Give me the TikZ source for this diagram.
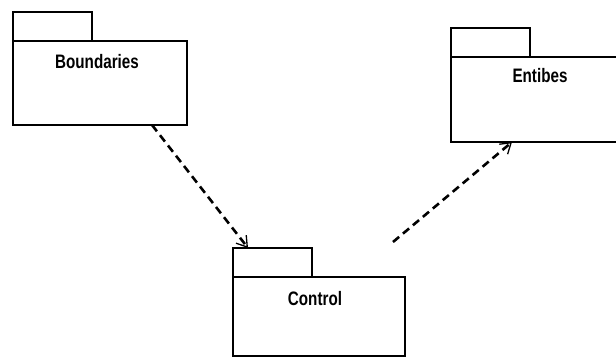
\documentclass[tikz,border=0pt]{standalone}
\usepackage{fontspec}
\setmainfont{Liberation Sans}
\newfontfamily\condfont[FakeStretch=0.78]{Liberation Sans}
\usetikzlibrary{arrows.meta}
\tikzset{
  pkgbody/.style={draw, line width=2pt, rectangle, inner sep=0pt, outer sep=0pt, anchor=north west},
  pkgtab/.style={draw, line width=2pt, rectangle, inner sep=0pt, outer sep=0pt, anchor=south west, minimum width=79pt, minimum height=29pt},
  pkglabel/.style={font=\condfont\bfseries\fontsize{19.5}{19.5}\selectfont, inner sep=0pt},
  dep/.style={line width=2.6pt, dash pattern=on 8pt off 5pt, -{Straight Barb[length=10pt,width=13pt,line width=1.3pt]}}
}
\begin{document}
\begin{tikzpicture}[x=1pt,y=-1pt]
\useasboundingbox (0,0) rectangle (616,358);
% Boundaries
\node[pkgbody, minimum width=174pt, minimum height=84pt] (bnd) at (13,41) {};
\node[pkgtab] (bndtab) at (bnd.north west) {};
\node[pkglabel] (bndlbl) at (97,62) {Boundaries};
% Entities
\node[pkgbody, minimum width=175pt, minimum height=85pt] (ent) at (451,57) {};
\node[pkgtab] (enttab) at (ent.north west) {};
\node[pkglabel] (entlbl) at (540,76) {Entibes};
% Control
\node[pkgbody, minimum width=172pt, minimum height=79pt] (ctl) at (233,277) {};
\node[pkgtab] (ctltab) at (ctl.north west) {};
\node[pkglabel] (ctllbl) at (315,299) {Control};
% dependencies
\coordinate (free) at (393,242);
\draw[dep] ([xshift=139pt]bnd.south west) -- ([xshift=15pt]ctltab.north west);
\draw[dep] (free) -- ([xshift=61pt]ent.south west);
\end{tikzpicture}
\end{document}
